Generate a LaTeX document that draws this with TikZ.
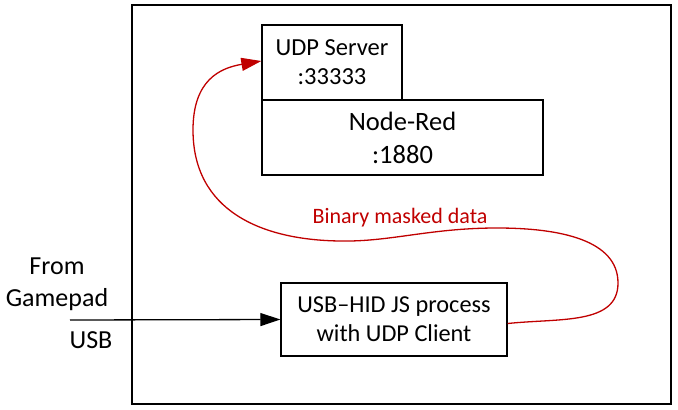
\documentclass[tikz,border=0pt]{standalone}
\usepackage{fontspec}
\setmainfont{Carlito}
\usetikzlibrary{arrows.meta}
\definecolor{dred}{RGB}{192,0,0}
\begin{document}
\begin{tikzpicture}[x=1pt,y=-1pt,
  box/.style={draw=black,line width=1.3pt,inner sep=0pt,align=center},
  lbl/.style={inner sep=0pt,align=center},
  tip/.style={-{Triangle[length=20pt,width=13pt]}}]
\useasboundingbox (0,0) rectangle (678,410);
\node[box,minimum width=539pt,minimum height=399pt] (outer) at (401.5,204.5) {};
\node[box,minimum width=140pt,minimum height=75pt,font=\fontsize{24.5pt}{29pt}\selectfont] (udp) at (332,62.5) {UDP Server\\:33333};
\node[box,minimum width=281pt,minimum height=75pt,font=\fontsize{26.5pt}{33pt}\selectfont] (nr) at (402.5,137.5) {Node-Red\\:1880};
\node[box,minimum width=226pt,minimum height=73pt,font=\fontsize{24.3pt}{29pt}\selectfont] (usb) at (394,319.5) {USB–HID JS process\\with UDP Client};
\node[lbl,font=\fontsize{26pt}{32pt}\selectfont] (from) at (57,284) {From\\Gamepad};
\node[lbl,font=\fontsize{26pt}{32pt}\selectfont] (usbl) at (91,340) {USB};
\node[lbl,font=\fontsize{22pt}{26pt}\selectfont,text=dred] (bin) at (400,218) {Binary masked data};
\coordinate (src) at (70,320);
\draw[tip,line width=1.3pt] (src) -- (usb.west);
\draw[tip,draw=dred,line width=1.3pt]
  ([yshift=-4pt]usb.east) .. controls (560,318) and (618,325) .. (618,283)
  .. controls (618,240) and (560,228) .. (497,228)
  .. controls (430,228) and (390,242) .. (340,241)
  .. controls (260,240) and (193,210) .. (193,130)
  .. controls (193,80) and (220,68) .. ([yshift=1.5pt]udp.west);
\end{tikzpicture}
\end{document}
